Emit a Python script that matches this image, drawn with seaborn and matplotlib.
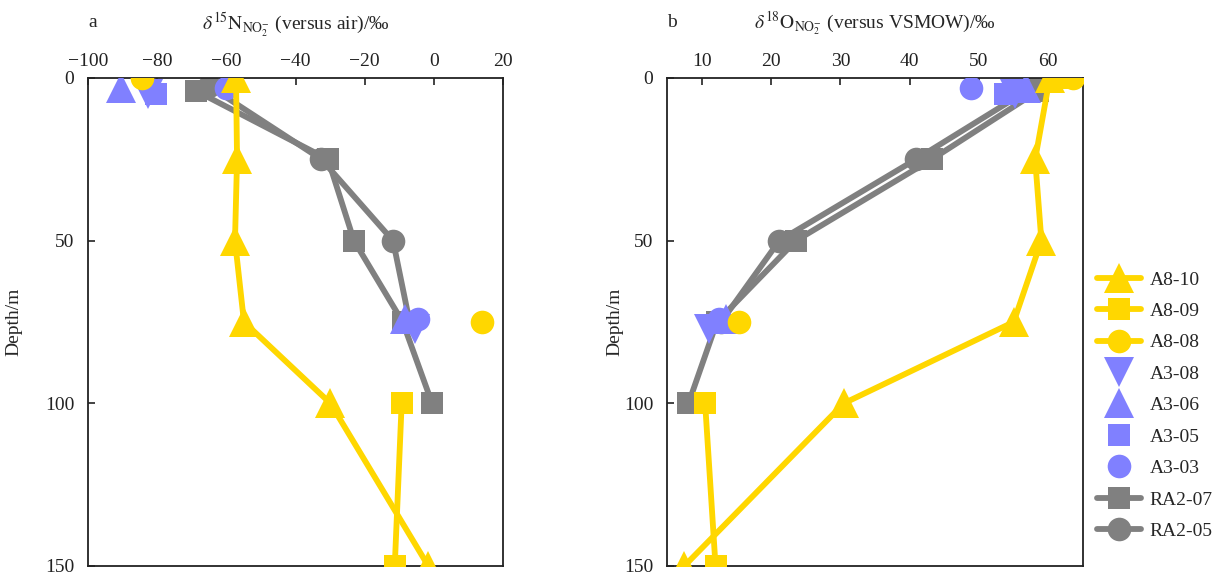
import numpy as np
import pandas as pd
import matplotlib
matplotlib.use("Agg")
import matplotlib.pyplot as plt
from matplotlib.lines import Line2D
import seaborn as sns

# ---------------- data ----------------
series_names = ["A8-10", "A8-09", "A8-08", "A3-08", "A3-06", "A3-05", "A3-03", "RA2-07", "RA2-05"]

# depth (m) of each sample, per series
depth_A8_10 = [0, 25, 50, 75, 100, 150]
depth_A8_09 = [0, 100, 150]
depth_A8_08 = [0, 75]
depth_A3_08 = [5, 77]
depth_A3_06 = [3, 74]
depth_A3_05 = [5]
depth_A3_03 = [3, 74]
depth_RA2_07 = [4, 25, 50, 75, 100]
depth_RA2_05 = [2.5, 25, 50, 75]

# line segment id (points in different segments are not joined)
seg_A8_10 = [0, 0, 0, 0, 0, 0]
seg_A8_09 = [0, 1, 1]
seg_A8_08 = [0, 1]
seg_A3_08 = [0, 1]
seg_A3_06 = [0, 1]
seg_A3_05 = [0]
seg_A3_03 = [0, 1]
seg_RA2_07 = [0, 0, 0, 0, 0]
seg_RA2_05 = [0, 0, 0, 0]

# panel a: delta15N of nitrite (versus air, permil)
d15N_A8_10 = [-57.2, -56.9, -57.5, -54.9, -29.9, -1.6]
d15N_A8_09 = [np.nan, -9.3, -11.3]
d15N_A8_08 = [-84.5, 13.8]
d15N_A3_08 = [-82.7, -5.5]
d15N_A3_06 = [-90.5, -8.4]
d15N_A3_05 = [-80.3]
d15N_A3_03 = [-60.1, -4.5]
d15N_RA2_07 = [-68.7, -30.6, -23.1, -9.0, -0.5]
d15N_RA2_05 = [-65.0, -32.5, -11.8, -7.0]

# panel b: delta18O of nitrite (versus VSMOW, permil)
d18O_A8_10 = [60.2, 58.1, 59.0, 55.0, 30.5, 7.5]
d18O_A8_09 = [62.3, 10.5, 12.0]
d18O_A8_08 = [63.6, 15.4]
d18O_A3_08 = [55.2, 11.1]
d18O_A3_06 = [56.8, 13.5]
d18O_A3_05 = [53.7]
d18O_A3_03 = [48.9, 12.5]
d18O_RA2_07 = [58.5, 43.2, 23.6, 12.2, 8.1]
d18O_RA2_05 = [58.0, 40.9, 21.2, 12.8]

x_ticks_a = [-100, -80, -60, -40, -20, 0, 20]
x_ticks_b = [10, 20, 30, 40, 50, 60]
y_ticks = [0, 50, 100, 150]

depths = [depth_A8_10, depth_A8_09, depth_A8_08, depth_A3_08, depth_A3_06,
          depth_A3_05, depth_A3_03, depth_RA2_07, depth_RA2_05]
segs = [seg_A8_10, seg_A8_09, seg_A8_08, seg_A3_08, seg_A3_06,
        seg_A3_05, seg_A3_03, seg_RA2_07, seg_RA2_05]
d15N = [d15N_A8_10, d15N_A8_09, d15N_A8_08, d15N_A3_08, d15N_A3_06,
        d15N_A3_05, d15N_A3_03, d15N_RA2_07, d15N_RA2_05]
d18O = [d18O_A8_10, d18O_A8_09, d18O_A8_08, d18O_A3_08, d18O_A3_06,
        d18O_A3_05, d18O_A3_03, d18O_RA2_07, d18O_RA2_05]

rows = []
for name, dep, sg, n, o in zip(series_names, depths, segs, d15N, d18O):
    for i in range(len(dep)):
        rows.append(dict(series=name, depth=dep[i], seg=sg[i], d15N=n[i], d18O=o[i]))
df = pd.DataFrame(rows)

# ---------------- styles ----------------
YEL = "#FFD700"
BLU = "#8080FF"
GRY = "#808080"
LW = 4.2
style = {
    "A8-10": dict(color=YEL, marker="^", ms=21, lw=LW, z=4),
    "A8-09": dict(color=YEL, marker="s", ms=15.8, lw=LW, z=4),
    "A8-08": dict(color=YEL, marker="o", ms=17, lw=LW, z=4),
    "A3-08": dict(color=BLU, marker="v", ms=21, lw=0, z=3),
    "A3-06": dict(color=BLU, marker="^", ms=21, lw=0, z=3),
    "A3-05": dict(color=BLU, marker="s", ms=15.8, lw=0, z=3),
    "A3-03": dict(color=BLU, marker="o", ms=17, lw=0, z=3),
    "RA2-07": dict(color=GRY, marker="s", ms=15.8, lw=LW, z=2),
    "RA2-05": dict(color=GRY, marker="o", ms=17, lw=LW, z=2),
}

sns.set_theme(style="white", rc={
    "xtick.direction": "in", "ytick.direction": "in",
    "axes.edgecolor": "#222222", "axes.linewidth": 1.3,
})
plt.rcParams["font.family"] = ["Liberation Serif", "DejaVu Serif"]
plt.rcParams["mathtext.fontset"] = "stix"
plt.rcParams["axes.unicode_minus"] = True

FS = 14
fig = plt.figure(figsize=(12.19, 5.76), dpi=100)
ax_a = fig.add_axes([88 / 1219, 10 / 576, 415 / 1219, 488 / 576])
ax_b = fig.add_axes([667 / 1219, 10 / 576, 416 / 1219, 488 / 576])


def draw(ax, col):
    for name in series_names:
        st = style[name]
        sub = df[df.series == name].dropna(subset=[col])
        if sub.empty:
            continue
        sns.lineplot(data=sub, x=col, y="depth", units="seg", estimator=None,
                     orient="y", ax=ax, color=st["color"], marker=st["marker"],
                     markersize=st["ms"], markeredgewidth=0, linewidth=st["lw"],
                     zorder=st["z"], legend=False)


draw(ax_a, "d15N")
draw(ax_b, "d18O")

for ax, xl, xt in [(ax_a, (-100, 20), x_ticks_a), (ax_b, (5, 65), x_ticks_b)]:
    ax.set_xlim(*xl)
    ax.set_ylim(150, 0)
    ax.set_xticks(xt)
    ax.set_yticks(y_ticks)
    ax.xaxis.tick_top()
    ax.tick_params(axis="x", which="both", top=True, bottom=False, direction="in",
                   length=5, width=1.2, pad=6, labelsize=FS, colors="#222222")
    ax.tick_params(axis="y", left=True, direction="in", length=5, width=1.2, pad=10,
                   labelsize=FS, colors="#222222")
    ax.set_xlabel("")
    ax.set_ylabel("")
    for sp in ax.spines.values():
        sp.set_visible(True)
        sp.set_color("#222222")

ax_a.text(0.0, 1.104, "a", transform=ax_a.transAxes, ha="left", va="baseline", fontsize=FS)
ax_b.text(0.0, 1.104, "b", transform=ax_b.transAxes, ha="left", va="baseline", fontsize=FS)
ax_a.text(0.5, 1.0994, r"$\delta^{15}\mathrm{N}_{\mathrm{NO}_2^{-}}$ (versus air)/‰",
          transform=ax_a.transAxes, ha="center", va="baseline", fontsize=FS)
ax_b.text(0.5, 1.0994, r"$\delta^{18}\mathrm{O}_{\mathrm{NO}_2^{-}}$ (versus VSMOW)/‰",
          transform=ax_b.transAxes, ha="center", va="baseline", fontsize=FS)
ax_a.text(-0.178, 0.5, "Depth/m", transform=ax_a.transAxes, rotation=90,
          ha="center", va="center", fontsize=FS)
ax_b.text(-0.125, 0.5, "Depth/m", transform=ax_b.transAxes, rotation=90,
          ha="center", va="center", fontsize=FS)

handles = []
for name in series_names:
    st = style[name]
    handles.append(Line2D([], [], color=st["color"], marker=st["marker"],
                          markersize=st["ms"], markeredgewidth=0,
                          linewidth=st["lw"] if st["lw"] > 0 else 0,
                          linestyle="-" if st["lw"] > 0 else "none",
                          solid_capstyle="round"))
fig.legend(handles, series_names, loc="upper left",
           bbox_to_anchor=(1097 / 1219, 1 - 271 / 576), frameon=False,
           fontsize=FS, handlelength=2.25, handletextpad=0.45, labelspacing=0.71,
           borderpad=0, borderaxespad=0)

fig.savefig("out.png", dpi=100)
